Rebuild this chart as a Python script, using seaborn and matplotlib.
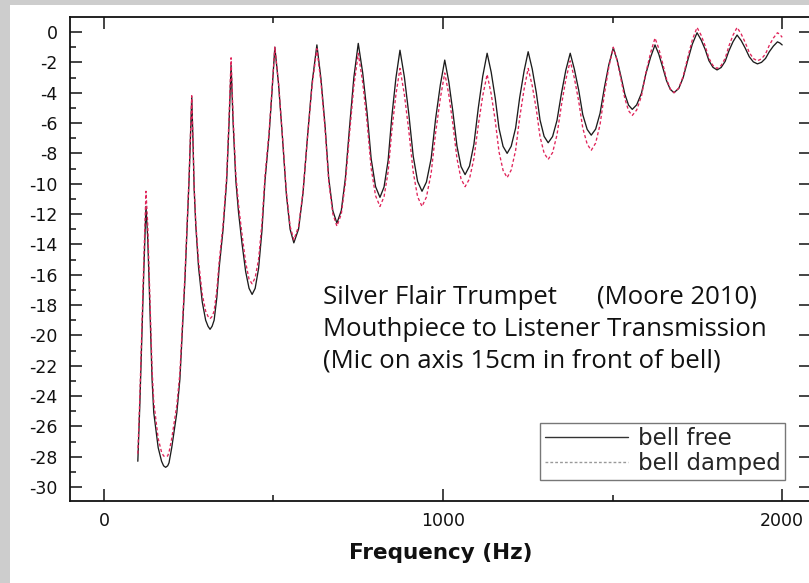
import matplotlib
matplotlib.use("Agg")
import matplotlib.pyplot as plt
import numpy as np
import pandas as pd
import seaborn as sns
from matplotlib.lines import Line2D
from matplotlib.patches import Rectangle

# ---------------- data ----------------
freq_hz = [100, 106, 112, 118, 124,
           129, 133, 142, 147, 160, 170, 176, 182,
           188, 192, 200, 215, 224, 239, 247, 251, 255, 259,
           263, 266, 271, 279, 290, 300, 307, 313,
           319, 325, 333, 340, 351, 362, 369, 375,
           381, 389, 397, 407, 418, 428, 437,
           446, 456, 466, 475, 487, 496, 504,
           515, 526, 538, 549, 560,
           574, 587, 601, 614, 628,
           640, 652, 663, 675, 687,
           700, 712, 725, 737, 750,
           763, 776, 788, 801, 814,
           826, 838, 849, 861, 873,
           886, 899, 912, 925, 938,
           951, 965, 978, 992, 1005,
           1017, 1029, 1041, 1053, 1065,
           1078, 1091, 1104, 1117, 1130,
           1142, 1154, 1165, 1177, 1189,
           1201, 1214, 1226, 1239, 1251,
           1263, 1275, 1286, 1298, 1310,
           1323, 1336, 1349, 1362, 1375,
           1387, 1400, 1412, 1425, 1437,
           1450, 1463, 1476, 1489, 1502,
           1513, 1524, 1536, 1547, 1558,
           1571, 1585, 1598, 1612, 1625,
           1636, 1647, 1659, 1670, 1681,
           1695, 1708, 1722, 1735, 1749,
           1761, 1773, 1784, 1796, 1808,
           1820, 1832, 1843, 1855, 1867,
           1879, 1891, 1903, 1915, 1927,
           1939, 1951, 1962, 1974, 1986,
           1993, 2000]

bell_free_db = [-28.3, -24.5, -20.0, -15.5, -11.5,
                -13.5, -16.3, -22.9, -25.1, -27.4, -28.3, -28.6, -28.7,
                -28.6, -28.4, -27.4, -25.1, -22.9, -16.3, -12.0, -9.8, -7.0, -4.3,
                -7.5, -10.3, -12.8, -15.5, -17.8, -19.0, -19.4, -19.6,
                -19.4, -19.0, -17.5, -15.5, -13.1, -9.8, -6.0, -2.2,
                -6.0, -9.8, -11.9, -13.9, -15.8, -16.9, -17.3,
                -16.9, -15.6, -13.1, -9.8, -6.8, -3.8, -1.0,
                -3.45, -6.8, -10.7, -13.0, -13.9,
                -12.99, -10.64, -6.72, -3.33, -0.85,
                -3.08, -6.14, -9.66, -11.78, -12.6,
                -11.77, -9.64, -6.08, -3.0, -0.75,
                -2.68, -5.32, -8.36, -10.19, -10.9,
                -10.22, -8.48, -5.57, -3.04, -1.2,
                -2.97, -5.39, -8.18, -9.85, -10.5,
                -9.89, -8.34, -5.74, -3.49, -1.85,
                -3.28, -5.25, -7.51, -8.87, -9.4,
                -8.84, -7.4, -5.0, -2.92, -1.4,
                -2.65, -4.37, -6.35, -7.54, -8.0,
                -7.53, -6.33, -4.32, -2.57, -1.3,
                -2.44, -4.0, -5.8, -6.88, -7.3,
                -6.89, -5.83, -4.06, -2.52, -1.4,
                -2.43, -3.83, -5.45, -6.42, -6.8,
                -6.4, -5.36, -3.64, -2.14, -1.05,
                -1.82, -2.87, -4.09, -4.82, -5.1,
                -4.8, -4.04, -2.76, -1.66, -0.85,
                -1.45, -2.27, -3.21, -3.78, -4.0,
                -3.72, -3.01, -1.83, -0.8, -0.05,
                -0.52, -1.15, -1.89, -2.33, -2.5,
                -2.34, -1.93, -1.24, -0.64, -0.2,
                -0.56, -1.06, -1.63, -1.97, -2.1,
                -2.0, -1.74, -1.3, -0.93, -0.65,
                -0.72, -0.85]

bell_damped_db = [-27.8, -24.0, -19.4, -14.8, -10.5,
                  -12.6, -15.6, -22.2, -24.4, -26.8, -27.7, -27.95, -28.0,
                  -27.95, -27.7, -26.8, -24.6, -22.5, -16.0, -11.8, -9.6, -6.9, -4.2,
                  -7.4, -10.1, -12.6, -15.1, -17.3, -18.4, -18.75, -18.9,
                  -18.75, -18.4, -17.0, -15.1, -12.8, -9.5, -5.6, -1.7,
                  -5.6, -9.4, -11.4, -13.3, -15.2, -16.3, -16.6,
                  -16.2, -15.0, -12.6, -9.5, -6.6, -3.7, -1.0,
                  -3.41, -6.71, -10.52, -12.81, -13.7,
                  -12.82, -10.55, -6.77, -3.49, -1.1,
                  -3.32, -6.37, -9.88, -11.98, -12.8,
                  -12.0, -9.95, -6.53, -3.57, -1.4,
                  -3.32, -5.95, -8.98, -10.79, -11.5,
                  -10.86, -9.23, -6.5, -4.13, -2.4,
                  -4.13, -6.5, -9.23, -10.86, -11.5,
                  -10.88, -9.3, -6.66, -4.37, -2.7,
                  -4.13, -6.08, -8.33, -9.68, -10.2,
                  -9.68, -8.35, -6.13, -4.21, -2.8,
                  -4.09, -5.86, -7.9, -9.12, -9.6,
                  -9.1, -7.8, -5.64, -3.77, -2.4,
                  -3.54, -5.1, -6.9, -7.98, -8.4,
                  -7.95, -6.78, -4.83, -3.14, -1.9,
                  -3.02, -4.56, -6.33, -7.39, -7.8,
                  -7.32, -6.1, -4.06, -2.29, -1.0,
                  -1.86, -3.03, -4.38, -5.19, -5.5,
                  -5.14, -4.23, -2.7, -1.37, -0.4,
                  -1.08, -2.02, -3.1, -3.75, -4.0,
                  -3.7, -2.93, -1.64, -0.52, 0.3,
                  -0.21, -0.92, -1.73, -2.21, -2.4,
                  -2.21, -1.73, -0.92, -0.21, 0.3,
                  -0.12, -0.69, -1.35, -1.75, -1.9,
                  -1.77, -1.44, -0.88, -0.4, -0.05,
                  -0.15, -0.35]

series_names = ["bell free", "bell damped"]
x_major_ticks = [0, 1000, 2000]
x_minor_ticks = [500, 1500]
y_major_ticks = list(range(-30, 1, 2))
y_minor_ticks = list(range(-29, 0, 2))
note_line1a = "Silver Flair Trumpet"
note_line1b = "(Moore 2010)"
note_line2 = "Mouthpiece to Listener Transmission"
note_line3 = "(Mic on axis 15cm in front of bell)"
x_label = "Frequency (Hz)"

# ---------------- figure ----------------
sns.set_theme(style="ticks")
plt.rcParams["font.family"] = ["DejaVu Sans"]

W, H = 809, 583
fig = plt.figure(figsize=(W / 100, H / 100), dpi=100, facecolor="#cdcdcd")
bg = Rectangle((10 / W, 0), 1, (H - 5) / H, transform=fig.transFigure,
               facecolor="white", edgecolor="none", zorder=-10)
fig.add_artist(bg)

ax_l, ax_r, ax_t, ax_b = 70, 811, 17, 501
ax = fig.add_axes([ax_l / W, (H - ax_b) / H, (ax_r - ax_l) / W, (ax_b - ax_t) / H])
ax.set_facecolor("white")
ax.set_zorder(5)

n = len(freq_hz)
df = pd.DataFrame({
    "freq": freq_hz + freq_hz,
    "level": bell_free_db + bell_damped_db,
    "series": [series_names[0]] * n + [series_names[1]] * n,
})

sns.lineplot(data=df, x="freq", y="level", hue="series", style="series",
             hue_order=series_names, style_order=series_names,
             palette={series_names[0]: "#1c1c1c", series_names[1]: "#e0245a"},
             dashes={series_names[0]: "", series_names[1]: (2.4, 1.8)},
             estimator=None, sort=False, linewidth=0.95, legend=False, ax=ax)

ax.set_xlim(-100, 2085)
ax.set_ylim(-30.92, 0.99)
ax.set_xticks(x_major_ticks)
ax.set_xticks(x_minor_ticks, minor=True)
ax.set_yticks(y_major_ticks)
ax.set_yticks(y_minor_ticks, minor=True)
ax.set_xticklabels([str(v) for v in x_major_ticks])
ax.set_yticklabels([str(v) for v in y_major_ticks])

ax.tick_params(axis="both", which="major", direction="in", length=8.5, width=1.1,
               top=True, right=True, colors="#111111", labelsize=12.5)
ax.tick_params(axis="both", which="minor", direction="in", length=4.5, width=1.1,
               top=True, right=False, colors="#111111")
ax.tick_params(axis="y", which="major", pad=9)
ax.tick_params(axis="x", which="major", pad=8)

for s in ax.spines.values():
    s.set_visible(True)
    s.set_color("#111111")
    s.set_linewidth(1.3)

ax.set_xlabel(x_label, fontsize=15.5, fontweight="bold", labelpad=9, color="#111111")
ax.set_ylabel("")

# annotation text (overlay)
def fy(y):
    return (H - y) / H

tfont = dict(family=["Open Sans", "DejaVu Sans"], fontsize=18.5, color="#111111",
             va="baseline", ha="left", zorder=20)
fig.text(323 / W, fy(304), note_line1a, **tfont)
fig.text(597 / W, fy(304), note_line1b, **tfont)
fig.text(323 / W, fy(336), note_line2, **tfont)
fig.text(323 / W, fy(368), note_line3, **tfont)

# legend
handles = [Line2D([], [], color="#333333", lw=1.0),
           Line2D([], [], color="#999999", lw=1.0, linestyle=(0, (2, 1.5)))]
leg = ax.legend(handles, series_names, loc="lower right",
                bbox_to_anchor=((785 - ax_l) / (ax_r - ax_l), (ax_b - 480) / (ax_b - ax_t)),
                frameon=True, fancybox=False, framealpha=1, edgecolor="#777777",
                fontsize=16.5, handlelength=3.6, handletextpad=0.44, borderpad=0.2,
                labelspacing=0.1, borderaxespad=0)
leg.get_frame().set_linewidth(1.0)

fig.savefig("out.png", dpi=100, facecolor=fig.get_facecolor())
